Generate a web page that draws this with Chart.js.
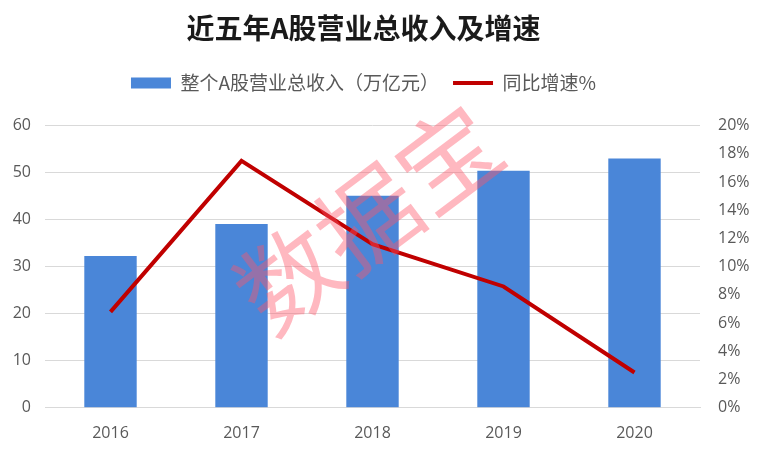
<!DOCTYPE html>
<html>
<head>
<meta charset="utf-8">
<script src="https://cdn.jsdelivr.net/npm/chart.js@4.4.1/dist/chart.umd.min.js"></script>
<style>
  html, body { margin: 0; padding: 0; background: #fff; }
  #wrap { width: 767px; height: 457px; }
</style>
</head>
<body>
<div id="wrap"><canvas id="chart" width="767" height="457"></canvas></div>
<script>
var years = ['2016', '2017', '2018', '2019', '2020'];
var revenue = [32.3, 39.1, 45.1, 50.4, 53.0];   // 万亿元
var growth = [6.8, 17.5, 11.6, 8.6, 2.5];        // %

// pink watermark drawn over the plot
var watermark = {
  id: 'watermark',
  afterDatasetsDraw: function (chart) {
    var c = chart.ctx;
    c.save();
    c.translate(368, 218);
    c.rotate(-37 * Math.PI / 180);
    c.font = '100px "Noto Sans CJK SC"';
    c.fillStyle = 'rgba(255, 85, 105, 0.42)';
    c.textAlign = 'center';
    c.textBaseline = 'middle';
    c.fillText('数据宝', 0, 0);
    c.restore();
  }
};

// extra room under the legend, and title/legend a bit left of centre
var headerTweak = {
  id: 'headerTweak',
  beforeInit: function (chart) {
    var fit = chart.legend.fit;
    chart.legend.fit = function () {
      fit.bind(chart.legend)();
      this.height += 23;
    };
  },
  afterLayout: function (chart) {
    [chart.titleBlock, chart.legend].forEach(function (b) {
      b.left -= 20;
      b.right -= 20;
    });
  }
};

var ctx = document.getElementById('chart').getContext('2d');
var chart = new Chart(ctx, {
  type: 'bar',
  data: {
    labels: years,
    datasets: [{
      type: 'line',
      label: '同比增速%',
      data: growth,
      yAxisID: 'y1',
      borderColor: '#C00000',
      backgroundColor: '#C00000',
      borderWidth: 4,
      pointRadius: 0,
      pointStyle: 'line',
      tension: 0,
      order: 0
    }, {
      label: '整个A股营业总收入（万亿元）',
      data: revenue,
      yAxisID: 'y',
      backgroundColor: '#4A86D8',
      pointStyle: 'rect',
      categoryPercentage: 1,
      barPercentage: 0.4,
      order: 1
    }]
  },
  options: {
    responsive: false,
    animation: false,
    layout: { padding: { left: 0, right: 0, top: 4, bottom: 6 } },
    plugins: {
      title: {
        display: true,
        text: '近五年A股营业总收入及增速',
        color: '#1a1a1a',
        font: { family: '"Noto Sans CJK SC"', size: 28, weight: 'bold' },
        padding: { top: 8, bottom: 14 }
      },
      legend: {
        reverse: true,
        labels: {
          usePointStyle: true,
          pointStyleWidth: 40,
          boxHeight: 11,
          color: '#595959',
          padding: 14,
          font: { family: '"Noto Sans CJK SC"', size: 19 }
        }
      },
      tooltip: { enabled: false }
    },
    scales: {
      x: {
        grid: { display: false },
        border: { color: '#d9d9d9' },
        ticks: { color: '#595959', font: { family: '"Open Sans"', size: 16 }, padding: 8 }
      },
      y: {
        position: 'left',
        min: 0,
        max: 60,
        afterFit: function (s) { s.width = 45; },
        ticks: { stepSize: 10, color: '#595959', font: { family: '"Open Sans"', size: 16 }, padding: 14 },
        grid: { color: '#d9d9d9', drawTicks: false },
        border: { display: false }
      },
      y1: {
        position: 'right',
        min: 0,
        max: 20,
        afterFit: function (s) { s.width = 67; },
        ticks: {
          stepSize: 2,
          color: '#595959',
          font: { family: '"Open Sans"', size: 16 },
          padding: 18,
          callback: function (v) { return v + '%'; }
        },
        grid: { display: false, drawTicks: false },
        border: { display: false }
      }
    }
  },
  plugins: [watermark, headerTweak]
});
</script>
</body>
</html>
